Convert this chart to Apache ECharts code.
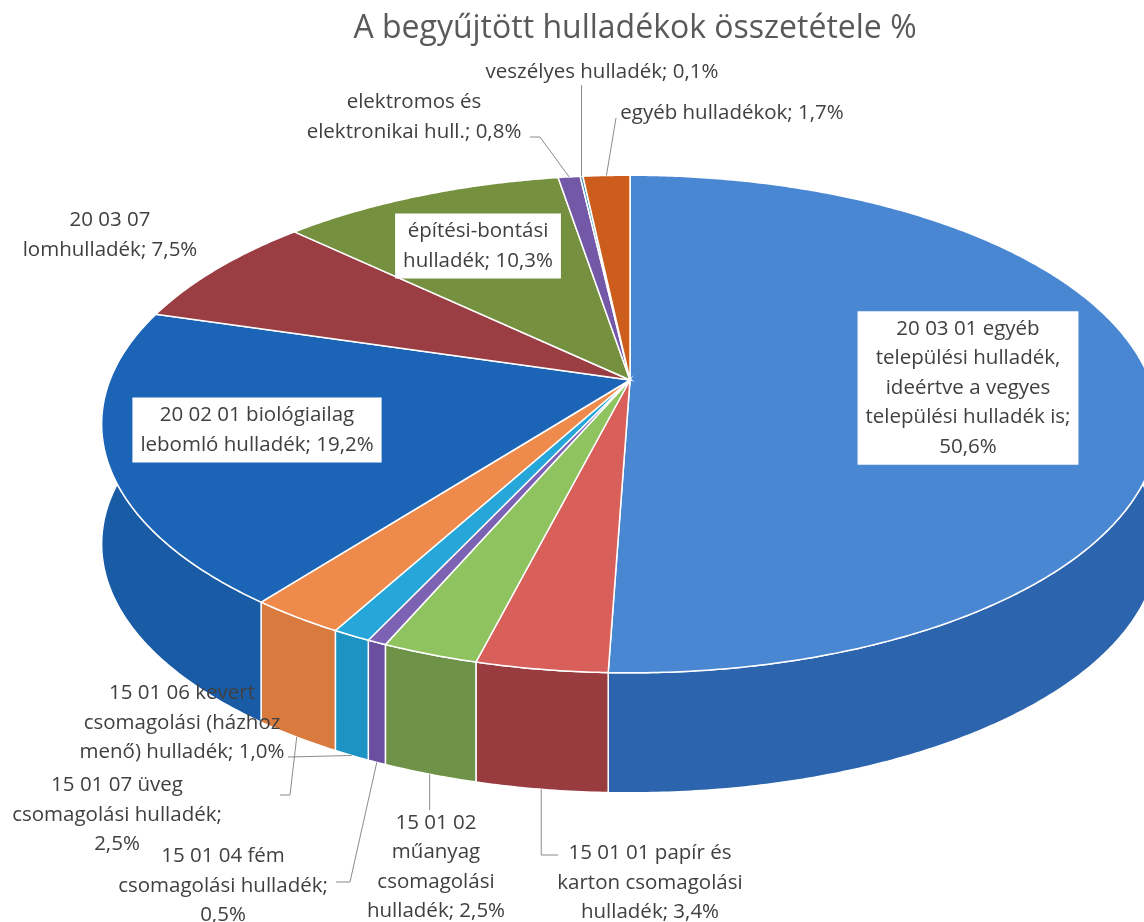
<!DOCTYPE html>
<html>
<head>
<meta charset="utf-8">
<script src="https://cdn.jsdelivr.net/npm/echarts@6/dist/echarts.min.js"></script>
<style>
html,body{margin:0;padding:0;background:#fff}
#chart{width:1144px;height:922px}
</style>
</head>
<body>
<div id="chart"></div>
<script>
// slice names (clockwise from 12 o'clock) and their shares in %
var names = [
    '20 03 01 egyéb\ntelepülési hulladék,\nideértve a vegyes\ntelepülési hulladék is',
    '15 01 01 papír és\nkarton csomagolási\nhulladék',
    '15 01 02\nműanyag\ncsomagolási\nhulladék',
    '15 01 04 fém\ncsomagolási hulladék',
    '15 01 06 kevert\ncsomagolási (házhoz\nmenő) hulladék',
    '15 01 07 üveg\ncsomagolási hulladék',
    '20 02 01 biológiailag\nlebomló hulladék',
    '20 03 07\nlomhulladék',
    'építési-bontási\nhulladék',
    'elektromos és\nelektronikai hull.',
    'veszélyes hulladék',
    'egyéb hulladékok'
];
var values = [50.6, 3.4, 2.5, 0.5, 1.0, 2.5, 19.2, 7.5, 10.3, 0.8, 0.1, 1.7];
var title = 'A begyűjtött hulladékok összetétele %';

// colours: top face / side wall
var topColors  = ['#4a87d3','#d95f5a','#8fc35f','#7b62b3','#27a7d9','#ee8a4b','#1c64b6','#9b3e43','#75913f','#7458a8','#3190b5','#cd5d1c'];
var wallColors = ['#2c64ad','#983c40','#6e9248','#6a4f9f','#1d93c4','#d97a3f','#1a5ba6','#7f3035','#5d7632','#5e468c','#25789a','#a84a15'];

// label layout: separator before value, centre, white box, leader bend points
var labelSep = [';\n', '; ', '; ', ';\n', '; ', ';\n', '; ', '; ', '; ', '; ', '; ', '; '];
var labelPos = [[968,388],[650,883],[436,867],[223,886],[182,723],[117,815],[257,430],[110,235],[478,246],[414,117],[602,72],[732,113]];
var labelBox = [true,false,false,false,false,false,true,false,true,false,false,false];
var leaderBend = [null, [[0,855],[558,855]], [[0,810]], [[350,882],[336,882]], [[288,757]], [[290,795],[280,795]],
    null, null, null, [[540,137],[530,137]], [[0,85]], [[616,118]]];
var leaderOnWall = [false,true,true,true,true,true,false,false,false,false,false,false];

var total = values.reduce(function(a,b){return a+b;}, 0);
var startAngle = [];
var acc = 0;
values.forEach(function(v){ startAngle.push(acc / total * Math.PI * 2); acc += v; });

var CX = 630, CY = 380, RX = 520, RY = 241, PK = 0.177, DEPTH = 120;
function pt(phi, drop){
    var u = Math.sin(phi), v = -Math.cos(phi), d = 1 - PK * v;
    return [CX + RX * u / d, CY + RY * v / d + (drop || 0)];
}
function arcPts(a0, a1, drop){
    var n = Math.max(2, Math.ceil((a1 - a0) / (Math.PI / 360)));
    var out = [];
    for (var k = 0; k <= n; k++) out.push(pt(a0 + (a1 - a0) * k / n, drop));
    return out;
}

var font = '20.5px "Open Sans"';

function renderSlice(params, api){
    var i = params.dataIndex;
    var a0 = startAngle[i];
    var a1 = a0 + api.value(1) / total * Math.PI * 2;
    var top = arcPts(a0, a1, 0);
    var low = arcPts(a0, a1, DEPTH).reverse();
    var children = [
        {type:'polygon', z2:1, shape:{points: top.concat(low)},
            style:{fill: wallColors[i], stroke:'#fff', lineWidth:1.5}},
        {type:'polygon', z2:10, shape:{points: [[CX,CY]].concat(top)},
            style:{fill: topColors[i], stroke:'#fff', lineWidth:1.5}}
    ];
    var txt = names[i] + labelSep[i] + api.value(1).toFixed(1).replace('.', ',') + '%';
    children.push({type:'text', z2:30, x: labelPos[i][0], y: labelPos[i][1],
        style:{text: txt, font: font, fill:'#404040', align:'center', verticalAlign:'middle',
            lineHeight:29.5, backgroundColor: labelBox[i] ? '#fff' : null,
            padding: labelBox[i] ? [3,8,3,8] : 0}});
    if (leaderBend[i]) {
        var anchor = pt((a0 + a1) / 2, leaderOnWall[i] ? DEPTH : 0);
        var pts = [anchor];
        leaderBend[i].forEach(function(p){ pts.push([p[0] === 0 ? anchor[0] : p[0], p[1]]); });
        children.push({type:'polyline', z2:25, shape:{points: pts},
            style:{fill:null, stroke:'#8a8a8a', lineWidth:1}});
    }
    return {type:'group', children: children};
}

var myChart = echarts.init(document.getElementById('chart'));
myChart.setOption({
    backgroundColor: '#fff',
    animation: false,
    title: {
        text: title,
        left: 630,
        top: 8,
        textAlign: 'center',
        textStyle: {fontFamily:'Open Sans', fontSize:32, fontWeight:'normal', color:'#595959'}
    },
    series: [{
        type: 'custom',
        coordinateSystem: 'none',
        renderItem: renderSlice,
        data: values.map(function(v, i){ return [i, v]; })
    }]
});
</script>
</body>
</html>
